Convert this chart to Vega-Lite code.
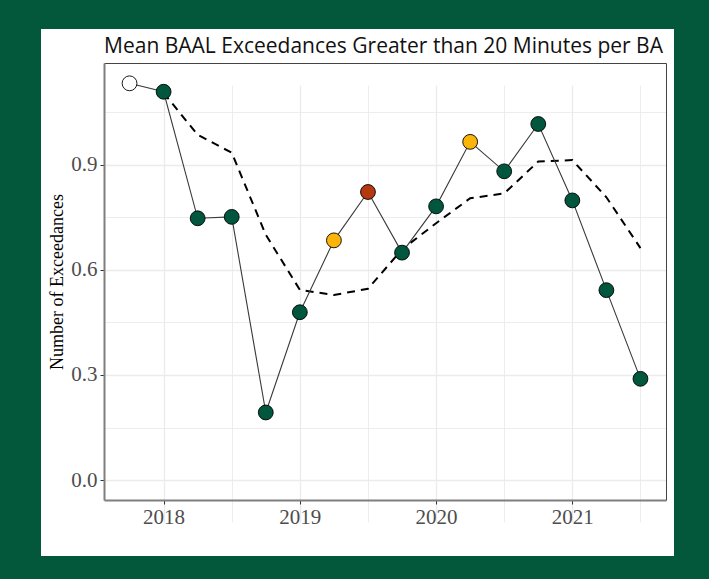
{
  "$schema": "https://vega.github.io/schema/vega-lite/v6.json",
  "width": 633,
  "height": 527,
  "autosize": {"type": "none"},
  "padding": {"left": 41, "top": 29, "right": 35, "bottom": 23},
  "background": "#03573a",
  "config": {
    "view": {"fill": "white", "stroke": null},
    "axis": {"zindex": 0}
  },
  "title": {
    "text": "Mean BAAL Exceedances Greater than 20 Minutes per BA",
    "font": "Open Sans",
    "fontSize": 21,
    "fontWeight": "normal",
    "color": "#111111",
    "anchor": "middle",
    "frame": "group",
    "dx": 26,
    "offset": -28
  },
  "datasets": {
    "quarters": [
      {"t": 2017.75, "v": 1.132, "flag": "open"},
      {"t": 2018.0, "v": 1.108, "flag": "normal"},
      {"t": 2018.25, "v": 0.747, "flag": "normal"},
      {"t": 2018.5, "v": 0.751, "flag": "normal"},
      {"t": 2018.75, "v": 0.193, "flag": "normal"},
      {"t": 2019.0, "v": 0.479, "flag": "normal"},
      {"t": 2019.25, "v": 0.684, "flag": "warn"},
      {"t": 2019.5, "v": 0.822, "flag": "alert"},
      {"t": 2019.75, "v": 0.649, "flag": "normal"},
      {"t": 2020.0, "v": 0.781, "flag": "normal"},
      {"t": 2020.25, "v": 0.965, "flag": "warn"},
      {"t": 2020.5, "v": 0.881, "flag": "normal"},
      {"t": 2020.75, "v": 1.016, "flag": "normal"},
      {"t": 2021.0, "v": 0.798, "flag": "normal"},
      {"t": 2021.25, "v": 0.542, "flag": "normal"},
      {"t": 2021.5, "v": 0.289, "flag": "normal"}
    ],
    "rolling": [
      {"t": 2018.0, "v": 1.105},
      {"t": 2018.25, "v": 0.985},
      {"t": 2018.5, "v": 0.934},
      {"t": 2018.75, "v": 0.700},
      {"t": 2019.0, "v": 0.543},
      {"t": 2019.25, "v": 0.528},
      {"t": 2019.5, "v": 0.546},
      {"t": 2019.75, "v": 0.658},
      {"t": 2020.0, "v": 0.733},
      {"t": 2020.25, "v": 0.804},
      {"t": 2020.5, "v": 0.818},
      {"t": 2020.75, "v": 0.909},
      {"t": 2021.0, "v": 0.913},
      {"t": 2021.25, "v": 0.807},
      {"t": 2021.5, "v": 0.662}
    ]
  },
  "resolve": {"axis": {"x": "independent", "y": "independent"}},
  "layer": [
    {
      "data": {"name": "rolling"},
      "mark": {"type": "line", "color": "black", "strokeWidth": 2, "strokeDash": [8, 6]},
      "encoding": {
        "x": {
          "field": "t", "type": "quantitative",
          "scale": {"domain": [2017.5625, 2021.6875], "range": [63, 625], "nice": false, "zero": false},
          "axis": {
            "orient": "bottom", "offset": -56, "title": null,
            "values": [2018, 2019, 2020, 2021], "format": "d",
            "labelFont": "Liberation Serif", "labelFontSize": 21, "labelColor": "#4d4d4d", "labelPadding": 2,
            "tickColor": "#333333", "tickSize": 4, "tickWidth": 1,
            "domainColor": "#7f7f7f", "domainWidth": 2,
            "grid": true, "gridColor": "#ebebeb", "gridWidth": 1.3
          }
        },
        "y": {
          "field": "v", "type": "quantitative",
          "scale": {"domain": [-0.0567, 1.19], "range": [471, 34], "nice": false, "zero": false},
          "axis": {
            "orient": "left", "offset": -63,
            "title": "Number of Exceedances",
            "titleFont": "Liberation Serif", "titleFontSize": 18, "titleFontWeight": "normal", "titleColor": "black", "titlePadding": 4,
            "values": [0, 0.3, 0.6, 0.9], "format": ".1f",
            "labelFont": "Liberation Serif", "labelFontSize": 21, "labelColor": "#4d4d4d", "labelPadding": 3,
            "tickColor": "#333333", "tickSize": 4, "tickWidth": 1,
            "domainColor": "#7f7f7f", "domainWidth": 2,
            "grid": true, "gridColor": "#ebebeb", "gridWidth": 1.3
          }
        }
      }
    },
    {
      "data": {"name": "quarters"},
      "mark": {"type": "line", "color": "#3a3a3a", "strokeWidth": 1.1},
      "encoding": {
        "x": {
          "field": "t", "type": "quantitative",
          "scale": {"domain": [2017.5625, 2021.6875], "range": [63, 625], "nice": false, "zero": false},
          "axis": {
            "orient": "bottom", "offset": -56, "title": null,
            "values": [2018.5, 2019.5, 2020.5, 2021.5],
            "labels": false, "ticks": false, "domain": false,
            "grid": true, "gridColor": "#ebebeb", "gridWidth": 0.9
          }
        },
        "y": {
          "field": "v", "type": "quantitative",
          "scale": {"domain": [-0.0567, 1.19], "range": [471, 34], "nice": false, "zero": false},
          "axis": {
            "orient": "left", "offset": -63, "title": null,
            "values": [0.15, 0.45, 0.75, 1.05],
            "labels": false, "ticks": false, "domain": false,
            "grid": true, "gridColor": "#ebebeb", "gridWidth": 0.9
          }
        }
      }
    },
    {
      "data": {"name": "quarters"},
      "mark": {"type": "point", "filled": true, "size": 220, "stroke": "black", "strokeWidth": 0.9, "opacity": 1},
      "encoding": {
        "x": {
          "field": "t", "type": "quantitative",
          "scale": {"domain": [2017.5625, 2021.6875], "range": [63, 625], "nice": false, "zero": false},
          "axis": {
            "orient": "top", "offset": -34, "title": null,
            "values": [], "labels": false, "ticks": false, "grid": false,
            "domain": true, "domainColor": "#444444", "domainWidth": 1
          }
        },
        "y": {
          "field": "v", "type": "quantitative",
          "scale": {"domain": [-0.0567, 1.19], "range": [471, 34], "nice": false, "zero": false},
          "axis": {
            "orient": "right", "offset": -8, "title": null,
            "values": [], "labels": false, "ticks": false, "grid": false,
            "domain": true, "domainColor": "#444444", "domainWidth": 1
          }
        },
        "fill": {
          "field": "flag", "type": "nominal", "legend": null,
          "scale": {"domain": ["open", "normal", "warn", "alert"], "range": ["#ffffff", "#00573d", "#fbb40a", "#b5390f"]}
        }
      }
    }
  ]
}
